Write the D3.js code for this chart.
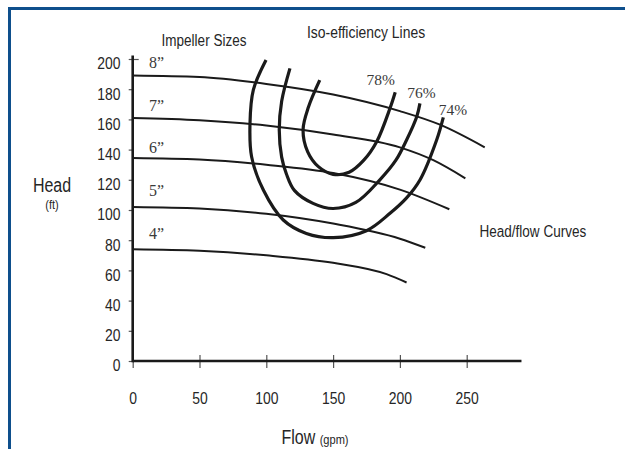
<!DOCTYPE html>
<html>
<head>
<meta charset="utf-8">
<script src="https://cdn.jsdelivr.net/npm/d3@7"></script>
<style>
  html, body { margin: 0; padding: 0; background: #fff; }
  svg { display: block; }
  .sans { font-family: "Liberation Sans", Arial, sans-serif; fill: #262626; }
  .serif { font-family: "Liberation Serif", "Times New Roman", serif; fill: #3a3a3a; }
</style>
</head>
<body>
<script>
// ---- Data ----
const xTicks = [0, 50, 100, 150, 200, 250];
const yTicks = [0, 20, 40, 60, 80, 100, 120, 140, 160, 180, 200];

const impellerSizes = ["8”", "7”", "6”", "5”", "4”"];
const impellerLabelHead = [194, 165.5, 138, 109, 81];

// head/flow curves: [flow, head]
const curve8 = [[0,189],[50,188],[100,183.5],[150,176.5],[200,165.5],[230,156.5],[263.5,141.5]];
const curve7 = [[0,161],[50,159.5],[100,156],[150,150],[200,141.5],[225,133],[249,121]];
const curve6 = [[0,134.5],[50,133.5],[100,130],[150,124.5],[200,113.5],[237,100.5]];
const curve5 = [[0,102],[50,101],[100,97.5],[150,91],[200,81],[219,75]];
const curve4 = [[0,74],[50,73],[100,70],[150,65],[190,57.5],[205,52]];
const headFlowCurves = [curve8, curve7, curve6, curve5, curve4];

// iso-efficiency lines: [flow, head]
const eff78 = [[140,186],[131.5,168],[127.5,153],[131,138.5],[139,128.7],[150,123.6],[162,125],[173,133],[182.6,145.2],[192.6,167.4],[196.5,178]];
const eff76 = [[117.7,193.8],[111.5,172],[109.7,153],[111.5,135],[115,124],[121,113],[135,104.4],[150,101],[167,105],[185,120],[197,133],[205,146.4],[212.6,161.8],[215,170.6]];
const eff74 = [[99.8,199.3],[90.3,179.5],[87.8,157.4],[89,135.3],[97.8,113.2],[112.7,93.4],[130,84.5],[150.2,81.7],[175,86.3],[192.6,97.8],[205,108],[215,119.9],[227.5,146.4],[232.5,161.4]];
const effCurves = [eff78, eff76, eff74];
const effLabels = ["78%", "76%", "74%"];
const effLabelPos = [[175, 182.5], [205.5, 174], [229, 163]];

// ---- Chart ----
const W = 625, H = 449;
const SX = 0.82; // condensed look
const svg = d3.select("body").append("svg").attr("width", W).attr("height", H);

const x = d3.scaleLinear().domain([0, 250]).range([132.7, 466.7]);
const y = d3.scaleLinear().domain([0, 200]).range([361, 59]);

function condText(px, py, size, str, anchor) {
  const g = svg.append("g").attr("transform", `translate(${px},${py}) scale(${SX},1)`);
  return g.append("text").attr("class", "sans").attr("font-size", size)
    .attr("text-anchor", anchor || "start").text(str);
}

// frame
svg.append("line").attr("x1", 8).attr("x2", W).attr("y1", 8.5).attr("y2", 8.5)
  .attr("stroke", "#0e4f8c").attr("stroke-width", 3);
svg.append("line").attr("x1", 9.5).attr("x2", 9.5).attr("y1", 7).attr("y2", H)
  .attr("stroke", "#0e4f8c").attr("stroke-width", 3);

// x axis
const xAxis = d3.axisBottom(x).tickValues(xTicks).tickSizeInner(7).tickSizeOuter(0).tickPadding(24);
const gx = svg.append("g").attr("transform", `translate(0,${y(0)})`).call(xAxis);
gx.attr("font-family", null).attr("font-size", null);
gx.select(".domain").remove();
gx.selectAll(".tick line").attr("y1", -6).attr("stroke", "#555").attr("stroke-width", 1.2);
gx.selectAll(".tick text").attr("class", "sans").attr("font-size", 17).attr("fill", "#262626")
  .attr("transform", `scale(${SX},1)`);

// y axis
const yAxis = d3.axisLeft(y).tickValues(yTicks).tickSizeInner(4).tickSizeOuter(0).tickPadding(8.2);
const gy = svg.append("g").attr("transform", `translate(${x(0)},0)`).call(yAxis);
gy.attr("font-family", null).attr("font-size", null);
gy.select(".domain").remove();
gy.selectAll(".tick line").attr("stroke", "#555").attr("stroke-width", 1.2);
gy.selectAll(".tick text").attr("class", "sans").attr("font-size", 17).attr("fill", "#262626").attr("dy", "0.58em")
  .attr("x", -12.2 / SX).attr("transform", `scale(${SX},1)`);
gy.selectAll(".tick").filter(d => d === 200).select("line").attr("x2", 6).attr("x1", -4);

// axis lines
svg.append("line").attr("x1", x(0)).attr("x2", x(291)).attr("y1", y(0)).attr("y2", y(0))
  .attr("stroke", "#1a1a1a").attr("stroke-width", 2.6);
svg.append("line").attr("x1", x(0)).attr("x2", x(0)).attr("y1", y(0) + 1.3).attr("y2", y(202.3))
  .attr("stroke", "#1a1a1a").attr("stroke-width", 2.6);

// head/flow curves
const lineSmooth = d3.line().x(d => x(d[0])).y(d => y(d[1])).curve(d3.curveMonotoneX);
svg.selectAll("path.hf").data(headFlowCurves).enter().append("path")
  .attr("class", "hf").attr("d", lineSmooth)
  .attr("fill", "none").attr("stroke", "#1a1a1a").attr("stroke-width", 2);

// iso-efficiency
const lineIso = d3.line().x(d => x(d[0])).y(d => y(d[1])).curve(d3.curveCatmullRom.alpha(0.5));
svg.selectAll("path.eff").data(effCurves).enter().append("path")
  .attr("class", "eff").attr("d", lineIso)
  .attr("fill", "none").attr("stroke", "#1a1a1a").attr("stroke-width", 3.2).attr("stroke-linecap", "butt");

// impeller labels
svg.selectAll("text.imp").data(impellerSizes).enter().append("text")
  .attr("class", "serif").attr("x", 149).attr("y", (d, i) => y(impellerLabelHead[i]))
  .attr("font-size", 16).text(d => d);

// efficiency labels
svg.selectAll("text.effl").data(effLabels).enter().append("text")
  .attr("class", "serif").attr("x", (d, i) => x(effLabelPos[i][0])).attr("y", (d, i) => y(effLabelPos[i][1]))
  .attr("font-size", 15.5).text(d => d);

// titles
condText(204, 45.5, 16.5, "Impeller Sizes", "middle");
condText(366, 37.5, 17, "Iso-efficiency Lines", "middle");
condText(479.5, 237, 16.5, "Head/flow Curves", "start");

// axis titles
condText(52, 192, 19.5, "Head", "middle");
condText(52, 208.5, 13.5, "(ft)", "middle");
const ft = condText(315, 444, 19.5, "", "middle");
ft.append("tspan").text("Flow ");
ft.append("tspan").attr("font-size", 13.5).text("(gpm)");
</script>
</body>
</html>
